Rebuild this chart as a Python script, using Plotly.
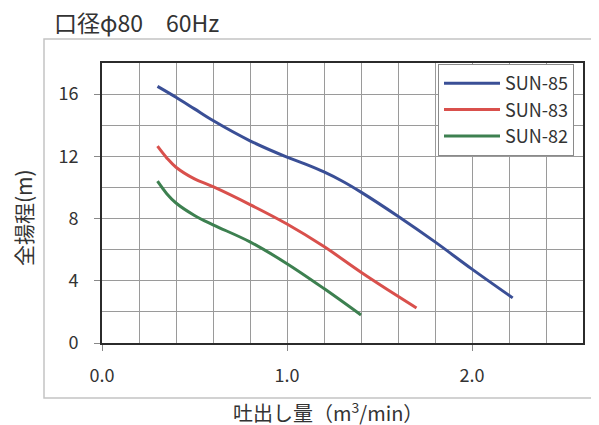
import plotly.graph_objects as go

# ---- data ----
series_names = ["SUN-85", "SUN-83", "SUN-82"]
series_colors = ["#3a4f96", "#d9504c", "#3d8050"]

sun85_q = [0.30, 0.40, 0.50, 0.60, 0.80, 1.00, 1.10, 1.20, 1.30, 1.40, 1.60, 1.80, 2.00, 2.22]
sun85_h = [16.5, 15.8, 15.05, 14.3, 13.0, 11.95, 11.5, 11.0, 10.4, 9.7, 8.15, 6.5, 4.75, 2.9]

sun83_q = [0.30, 0.35, 0.40, 0.50, 0.60, 0.80, 1.00, 1.20, 1.40, 1.60, 1.70]
sun83_h = [12.65, 11.9, 11.3, 10.55, 10.05, 8.9, 7.65, 6.2, 4.55, 3.0, 2.25]

sun82_q = [0.30, 0.35, 0.40, 0.50, 0.60, 0.80, 1.00, 1.20, 1.40]
sun82_h = [10.4, 9.6, 9.0, 8.2, 7.6, 6.5, 5.1, 3.5, 1.8]

title_text = "口径φ80　60Hz"
x_title = "吐出し量（m<sup>3</sup>/min）"
y_title = "全揚程(m)"

FONT = "Noto Sans CJK JP"

fig = go.Figure()
for name, color, q, h in zip(series_names, series_colors,
                             [sun85_q, sun83_q, sun82_q],
                             [sun85_h, sun83_h, sun82_h]):
    fig.add_trace(go.Scatter(x=q, y=h, mode="lines", name=name,
                             line=dict(color=color, width=3, shape="spline", smoothing=1.0)))

axis_common = dict(
    showline=True, linecolor="#2b2b2b", linewidth=2, mirror=True,
    showgrid=True, gridcolor="#9a9a9a", gridwidth=1,
    ticks="outside", ticklen=6, tickcolor="#888", tickwidth=1,
    zeroline=False,
    tickfont=dict(family=FONT, size=18, color="#333"),
)

fig.update_xaxes(range=[0, 2.6], tick0=0, dtick=1.0, tickformat=".1f",
                 minor=dict(dtick=0.2, showgrid=True, gridcolor="#9a9a9a", gridwidth=1, ticks=""),
                 ticklabelstandoff=9, **axis_common)
fig.update_yaxes(range=[0, 18], tick0=0, dtick=4,
                 minor=dict(dtick=2, showgrid=True, gridcolor="#9a9a9a", gridwidth=1, ticks=""),
                 ticklabelstandoff=12, **axis_common)

# page body adds an 8px offset; design in screen coordinates and compensate
OFF = 8
W, H = 599 - OFF, 425 - OFF
L, T = 102 - OFF, 63 - OFF
R = W - (583 - OFF)
B = H - (343 - OFF)
pw, ph = W - L - R, H - T - B

def px(x):
    return (x - OFF - L) / pw

def py(y):
    return (H - B - (y - OFF)) / ph

fig.update_layout(
    width=W, height=H,
    margin=dict(l=L, r=R, t=T, b=B, autoexpand=False),
    paper_bgcolor="white", plot_bgcolor="white",
    font=dict(family=FONT, color="#333"),
    showlegend=True,
    legend=dict(x=px(438), y=py(64), xanchor="left", yanchor="top",
                bgcolor="white", bordercolor="#8a8a8a", borderwidth=1,
                font=dict(family=FONT, size=18, color="#333"),
                itemwidth=56, tracegroupgap=0),
    shapes=[dict(type="rect", xref="paper", yref="paper",
                 x0=px(44), x1=px(620), y0=py(398), y1=py(39),
                 line=dict(color="#c4c4c4", width=1.5), layer="below")],
    annotations=[
        dict(text=title_text, xref="paper", yref="paper", x=px(52), y=py(22),
             xanchor="left", yanchor="middle", showarrow=False,
             font=dict(family=FONT, size=23, color="#333")),
        dict(text=y_title, xref="paper", yref="paper", x=px(23), y=py(218),
             xanchor="center", yanchor="middle", textangle=-90, showarrow=False,
             font=dict(family=FONT, size=21, color="#333")),
        dict(text=x_title, xref="paper", yref="paper", x=px(328), y=py(412),
             xanchor="center", yanchor="middle", showarrow=False,
             font=dict(family=FONT, size=20, color="#333")),
    ],
)

fig.write_html("out.html")
